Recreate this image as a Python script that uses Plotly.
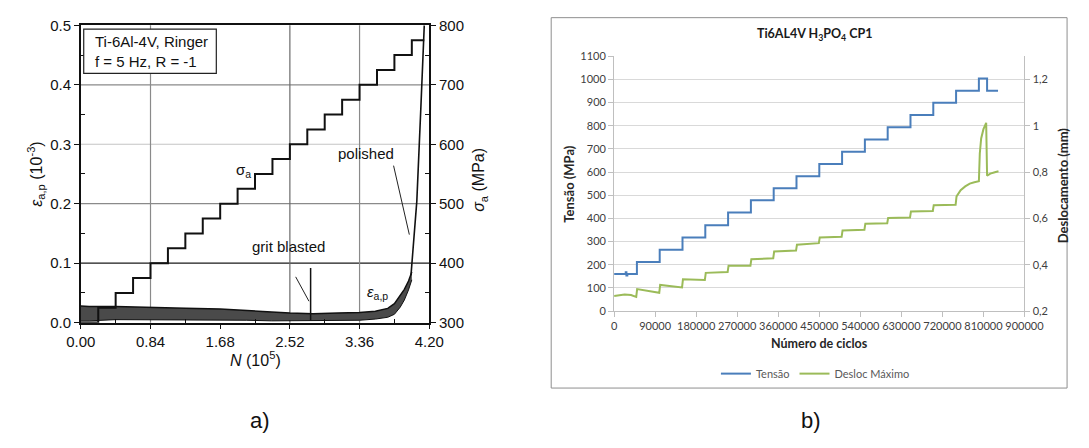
import plotly.graph_objects as go

W, H = 1089, 448
def px(x): return x / W
def py(y): return 1 - y / H

# ---------------- Panel a data (N in 10^5 cycles) ----------------
sigma_N = [0.00, 0.21, 0.42, 0.63, 0.84, 1.05, 1.26, 1.47, 1.68, 1.89, 2.10, 2.31,
           2.52, 2.73, 2.94, 3.15, 3.36, 3.57, 3.78, 3.99, 4.14]
sigma_a = [300, 325, 350, 375, 400, 425, 450, 475, 500, 525, 550, 575,
           600, 625, 650, 675, 700, 725, 750, 775, 775]

band_N = [0.00, 0.10, 0.42, 0.84, 1.26, 1.68, 2.00, 2.30, 2.52, 2.80, 3.10, 3.36,
          3.55, 3.70, 3.78, 3.85, 3.90, 3.95, 3.99]
band_upper = [0.028, 0.027, 0.027, 0.025, 0.024, 0.023, 0.021, 0.018, 0.016, 0.015, 0.016,
              0.017, 0.019, 0.024, 0.032, 0.045, 0.056, 0.070, 0.085]
band_lower = [0.003, 0.003, 0.005, 0.005, 0.005, 0.005, 0.004, 0.003, 0.003, 0.003, 0.003,
              0.004, 0.006, 0.009, 0.014, 0.026, 0.038, 0.055, 0.072]

rise_N = [3.98, 4.02, 4.05, 4.10, 4.14]
rise_eps = [0.080, 0.147, 0.204, 0.365, 0.500]

grit_N = [2.77, 2.77]
grit_eps = [0.004, 0.092]

a_xticks = [0.00, 0.84, 1.68, 2.52, 3.36, 4.20]
a_xminor = [0.42, 1.26, 2.10, 2.94, 3.78]
a_hgrid = [0.1, 0.2, 0.3, 0.4]
a_hgrid_col = ["#1a1a1a", "#8a8a8a", "#c4c4c4", "#8a8a8a"]
a_vgrid = [0.84, 2.52, 3.36]
a_vgrid_col = ["#8a8a8a", "#6a6a6a", "#8a8a8a"]

# ---------------- Panel b data ----------------
tensao_x = [0, 24000, 25500, 27000, 29000, 50000, 100000, 150000, 200000, 250000, 300000, 350000,
            400000, 450000, 500000, 550000, 600000, 650000, 700000, 750000,
            800000, 818000, 842000]
tensao_y = [160, 160, 168, 154, 160, 212, 265, 318, 370, 425, 478, 530,
            582, 635, 688, 740, 793, 846, 899, 951,
            1004, 951, 951]

desloc_x = [0, 23000, 37000, 48500, 50500, 99000, 101000, 149000, 151000, 199000, 201000,
            249000, 251000, 299000, 301000, 349000, 351000, 399000, 401000, 449000, 451000,
            499000, 501000, 549000, 551000, 599000, 601000, 649000, 651000, 699000, 701000,
            749000, 751000, 760000, 770000, 780000, 790000, 800000, 802000, 805000, 810000,
            816000, 818000, 825000, 835000, 843000]
desloc_y = [0.265, 0.272, 0.269, 0.261, 0.295, 0.279, 0.313, 0.302, 0.337, 0.334, 0.365,
            0.369, 0.396, 0.396, 0.424, 0.428, 0.457, 0.461, 0.486, 0.493, 0.518,
            0.521, 0.548, 0.551, 0.577, 0.579, 0.602, 0.604, 0.630, 0.632, 0.657,
            0.659, 0.695, 0.722, 0.738, 0.750, 0.756, 0.760, 0.880, 0.945, 0.985,
            1.012, 0.784, 0.793, 0.799, 0.803]

b_xticks = [0, 90000, 180000, 270000, 360000, 450000, 540000, 630000, 720000, 810000, 900000]
b_rticks = [0.2, 0.4, 0.6, 0.8, 1.0, 1.2]
b_rtick_text = ["0,2", "0,4", "0,6", "0,8", "1", "1,2"]

FA = "Liberation Sans, Arial, sans-serif"
FB = "Lato, Open Sans, sans-serif"

fig = go.Figure()

# Panel a traces
fig.add_trace(go.Scatter(x=band_N, y=band_lower, mode="lines", line=dict(color="#111", width=1),
                         xaxis="x", yaxis="y", showlegend=False, hoverinfo="skip"))
fig.add_trace(go.Scatter(x=band_N, y=band_upper, mode="lines", line=dict(color="#111", width=1.5),
                         fill="tonexty", fillcolor="#4a4a4a",
                         xaxis="x", yaxis="y", showlegend=False, hoverinfo="skip"))
fig.add_trace(go.Scatter(x=rise_N, y=rise_eps, mode="lines", line=dict(color="#111", width=1.6),
                         xaxis="x", yaxis="y", showlegend=False))
fig.add_trace(go.Scatter(x=grit_N, y=grit_eps, mode="lines", line=dict(color="#111", width=1.5),
                         xaxis="x", yaxis="y", showlegend=False))
fig.add_trace(go.Scatter(x=sigma_N, y=sigma_a, mode="lines", line=dict(color="#111", width=2, shape="hv"),
                         xaxis="x", yaxis="y2", showlegend=False))

# Panel b traces
fig.add_trace(go.Scatter(x=tensao_x, y=tensao_y, mode="lines", name="Tensão",
                         line=dict(color="#4a7ebb", width=2, shape="hv"),
                         xaxis="x2", yaxis="y3"))
fig.add_trace(go.Scatter(x=desloc_x, y=desloc_y, mode="lines", name="Desloc Máximo",
                         line=dict(color="#9bbb59", width=2),
                         xaxis="x2", yaxis="y4"))

shapes = []
for v, c in zip(a_hgrid, a_hgrid_col):
    shapes.append(dict(type="line", xref="x domain", yref="y", x0=0, x1=1, y0=v, y1=v,
                       line=dict(color=c, width=1.2), layer="below"))
for v, c in zip(a_vgrid, a_vgrid_col):
    shapes.append(dict(type="line", xref="x", yref="y domain", x0=v, x1=v, y0=0, y1=1,
                       line=dict(color=c, width=1.2), layer="below"))
# annotation pointer lines
shapes.append(dict(type="line", xref="x", yref="y", x0=3.77, y0=0.264, x1=3.96, y1=0.148,
                   line=dict(color="#222", width=1)))
shapes.append(dict(type="line", xref="x", yref="y", x0=2.59, y0=0.077, x1=2.75, y1=0.036,
                   line=dict(color="#222", width=1)))
# info box in panel a
shapes.append(dict(type="rect", xref="paper", yref="paper", x0=px(71), x1=px(208), y0=py(67), y1=py(21),
                   line=dict(color="#222", width=1.2), fillcolor="white"))
# frame around panel b
shapes.append(dict(type="rect", xref="paper", yref="paper", x0=px(554), x1=px(1087), y0=py(394), y1=py(9),
                   line=dict(color="#8f8f8f", width=1)))

ann = []
def A(text, x, y, size, font=FA, color="#111", angle=0, xanchor="center", yanchor="middle", align="center"):
    ann.append(dict(text=text, x=px(x), y=py(y), xref="paper", yref="paper", showarrow=False,
                    font=dict(family=font, size=size, color=color), textangle=angle,
                    xanchor=xanchor, yanchor=yanchor, align=align))

A("Ti-6Al-4V, Ringer<br>f = 5 Hz, R = -1", 81, 44, 15, xanchor="left", align="left")
A("σ<sub>a</sub>", 236, 168, 15)
A("polished", 363, 150, 15)
A("grit blasted", 283, 247, 15)
A("<i>ε</i><sub>a,p</sub>", 375, 295, 15)
A("<i>N</i> (10<sup>5</sup>)", 248, 364, 16)
A("<i>ε</i><sub>a,p</sub> (10<sup>-3</sup>)", 22, 172, 16, angle=-90)
A("<i>σ</i><sub>a</sub> (MPa)", 480, 178, 16, angle=-90)
A("a)", 253, 428, 22)
A("b)", 822, 428, 22)

A("<b>Ti6AL4V H<sub>3</sub>PO<sub>4</sub> CP1</b>", 826, 27, 12.5, font=FB, color="#1a1a1a")
A("<b>Tensão (MPa)</b>", 573, 182, 13, font=FB, color="#262626", angle=-90)
A("<b>Deslocamento (mm)</b>", 1083, 183, 13, font=FB, color="#262626", angle=-90)
A("<b>Número de ciclos</b>", 831, 348, 12.5, font=FB, color="#262626")

tfa = dict(family=FA, size=15, color="#111")
tfb = dict(family=FB, size=11, color="#404040")

fig.update_layout(
    width=W, height=H, margin=dict(l=0, r=0, t=0, b=0),
    paper_bgcolor="white", plot_bgcolor="rgba(0,0,0,0)",
    shapes=shapes, annotations=ann,
    showlegend=True,
    legend=dict(orientation="h", traceorder="normal", x=px(827), xanchor="center", y=py(379), yanchor="middle",
                font=dict(family=FB, size=11, color="#595959"), bgcolor="rgba(0,0,0,0)",
                itemwidth=30, tracegroupgap=0),
    xaxis=dict(domain=[px(68), px(428)], range=[0, 4.2], anchor="y",
               tickmode="array", tickvals=a_xticks, ticktext=[f"{v:.2f}" for v in a_xticks],
               ticks="outside", ticklen=5, tickwidth=1.2, tickcolor="#111",
               minor=dict(tickmode="array", tickvals=a_xminor, ticks="inside", ticklen=4, tickcolor="#111"),
               showline=True, linecolor="#111", linewidth=1.5, mirror=True,
               showgrid=False, zeroline=False, tickfont=tfa),
    yaxis=dict(domain=[py(326), py(17)], range=[0, 0.5], anchor="x",
               tickmode="linear", tick0=0, dtick=0.1, tickformat=".1f",
               ticks="outside", ticklen=5, tickwidth=1.2, tickcolor="#111",
               minor=dict(tickmode="linear", tick0=0.05, dtick=0.1, ticks="inside", ticklen=4, tickcolor="#111"),
               showline=True, linecolor="#111", linewidth=1.5,
               showgrid=False, zeroline=False, tickfont=tfa),
    yaxis2=dict(overlaying="y", side="right", range=[300, 800], anchor="x",
                tickmode="linear", tick0=300, dtick=100,
                ticks="outside", ticklen=5, tickwidth=1.2, tickcolor="#111",
                minor=dict(tickmode="linear", tick0=350, dtick=100, ticks="inside", ticklen=4, tickcolor="#111"),
                showline=True, linecolor="#111", linewidth=1.5,
                showgrid=False, zeroline=False, tickfont=tfa),
    xaxis2=dict(domain=[px(619), px(1043)], range=[0, 900000], anchor="y3",
                tickmode="array", tickvals=b_xticks, ticktext=[str(v) for v in b_xticks],
                ticks="outside", ticklen=5, tickcolor="#bfbfbf",
                showline=True, linecolor="#bfbfbf", linewidth=1,
                showgrid=False, zeroline=False, tickfont=tfb),
    yaxis3=dict(domain=[py(314), py(49)], range=[0, 1100], anchor="x2",
                tickmode="linear", tick0=0, dtick=100,
                ticks="outside", ticklen=5, tickcolor="#bfbfbf",
                showline=True, linecolor="#bfbfbf", linewidth=1,
                showgrid=True, gridcolor="#d9d9d9", gridwidth=1, zeroline=False, tickfont=tfb),
    yaxis4=dict(overlaying="y3", side="right", range=[0.2, 1.3], anchor="x2",
                tickmode="array", tickvals=b_rticks, ticktext=b_rtick_text,
                ticks="outside", ticklen=5, tickcolor="#bfbfbf",
                showline=True, linecolor="#bfbfbf", linewidth=1,
                showgrid=False, zeroline=False, tickfont=tfb),
)

fig.write_html("out.html")
